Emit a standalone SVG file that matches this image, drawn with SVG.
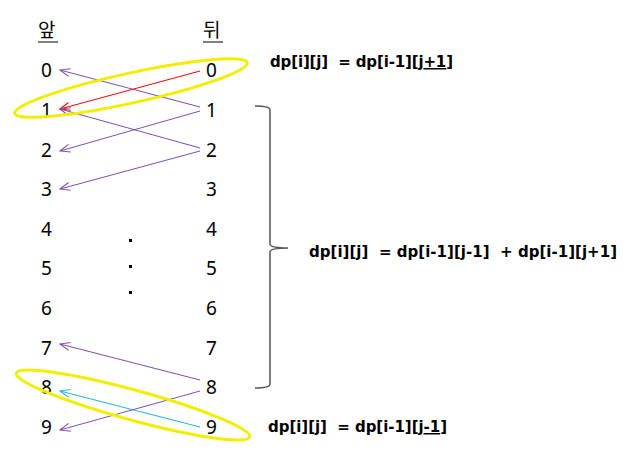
<svg xmlns="http://www.w3.org/2000/svg" width="635" height="457" viewBox="0 0 635 457">
<style>
.num{font-family:"Noto Sans","Liberation Sans",sans-serif;font-size:19px;fill:#000}
.hdr{font-family:"Noto Sans CJK KR","Noto Sans",sans-serif;font-size:19px;fill:#000}
.f{font-family:"DejaVu Sans","Liberation Sans",sans-serif;font-weight:bold;font-size:15px;fill:#000}
.p{stroke:#7a4fb0;stroke-width:1;fill:none}
.r{stroke:#ff0000;stroke-width:1;fill:none}
.c{stroke:#1eb4ee;stroke-width:1;fill:none}
.ell{fill:none;stroke:#f2ee00;stroke-width:3}
.u{text-decoration:underline}
</style>
<defs>
<marker id="ap" markerWidth="12" markerHeight="10" refX="11" refY="5" orient="auto" markerUnits="userSpaceOnUse"><path d="M1,1 L11,5 L1,9" fill="none" stroke="#7a4fb0" stroke-width="1"/></marker>
<marker id="ar" markerWidth="12" markerHeight="10" refX="11" refY="5" orient="auto" markerUnits="userSpaceOnUse"><path d="M1,1 L11,5 L1,9" fill="none" stroke="#ff0000" stroke-width="1"/></marker>
<marker id="ac" markerWidth="12" markerHeight="10" refX="11" refY="5" orient="auto" markerUnits="userSpaceOnUse"><path d="M1,1 L11,5 L1,9" fill="none" stroke="#1eb4ee" stroke-width="1"/></marker>
</defs>

<g id="headers">
<text class="hdr" x="38" y="37">앞</text>
<line x1="38" y1="42" x2="58" y2="42" stroke="#000" stroke-width="1"/>
<text class="hdr" x="203" y="37">뒤</text>
<line x1="203" y1="42" x2="223" y2="42" stroke="#000" stroke-width="1"/>
</g>

<g id="left-col">
<text class="num" x="41" y="77">0</text>
<text class="num" x="41" y="117">1</text>
<text class="num" x="41" y="157">2</text>
<text class="num" x="41" y="196">3</text>
<text class="num" x="41" y="236">4</text>
<text class="num" x="41" y="275">5</text>
<text class="num" x="41" y="315">6</text>
<text class="num" x="41" y="355">7</text>
<text class="num" x="41" y="394">8</text>
<text class="num" x="41" y="434">9</text>
</g>

<g id="right-col">
<text class="num" x="206" y="77">0</text>
<text class="num" x="206" y="117">1</text>
<text class="num" x="206" y="157">2</text>
<text class="num" x="206" y="196">3</text>
<text class="num" x="206" y="236">4</text>
<text class="num" x="206" y="275">5</text>
<text class="num" x="206" y="315">6</text>
<text class="num" x="206" y="355">7</text>
<text class="num" x="206" y="394">8</text>
<text class="num" x="206" y="434">9</text>
</g>

<g id="dots" fill="#000">
<rect x="129" y="239" width="3" height="3"/>
<rect x="129" y="265" width="3" height="3"/>
<rect x="129" y="291" width="3" height="3"/>
</g>

<g id="connectors">
<line class="p" x1="200" y1="107" x2="60" y2="70" marker-end="url(#ap)"/>
<line class="r" x1="200" y1="71" x2="60" y2="109" marker-end="url(#ar)"/>
<line class="p" x1="200" y1="148" x2="60" y2="109" marker-end="url(#ap)"/>
<line class="p" x1="200" y1="111" x2="60" y2="151" marker-end="url(#ap)"/>
<line class="p" x1="200" y1="151" x2="60" y2="189" marker-end="url(#ap)"/>
<line class="p" x1="200" y1="380" x2="60" y2="344" marker-end="url(#ap)"/>
<line class="c" x1="200" y1="427" x2="60" y2="391" marker-end="url(#ac)"/>
<line class="p" x1="200" y1="391" x2="60" y2="430" marker-end="url(#ap)"/>
</g>

<g id="ellipse-top">
<ellipse class="ell" cx="131" cy="88" rx="119" ry="15" transform="rotate(-12.3 131 88)"/>
</g>
<g id="ellipse-bottom">
<ellipse class="ell" cx="133" cy="405" rx="121" ry="15" transform="rotate(15.3 133 405)"/>
</g>

<g id="brace">
<path d="M255,106 Q270,106 270,110 L270,244 Q270,248 288,248 Q270,248 270,252 L270,384 Q270,388 255,388" fill="none" stroke="#555" stroke-width="1.5"/>
</g>

<g id="formula-top">
<text class="f" x="270" y="67" xml:space="preserve" textLength="183" lengthAdjust="spacing">dp[i][j]  = dp[i-1][<tspan class="u">j+1</tspan>]</text>
</g>
<g id="formula-mid">
<text class="f" x="309" y="257" xml:space="preserve" textLength="308" lengthAdjust="spacing">dp[i][j]  = dp[i-1][j-1]  + dp[i-1][j+1]</text>
</g>
<g id="formula-bottom">
<text class="f" x="268" y="432" xml:space="preserve" textLength="179" lengthAdjust="spacing">dp[i][j]  = dp[i-1][<tspan class="u">j-1</tspan>]</text>
</g>
</svg>
